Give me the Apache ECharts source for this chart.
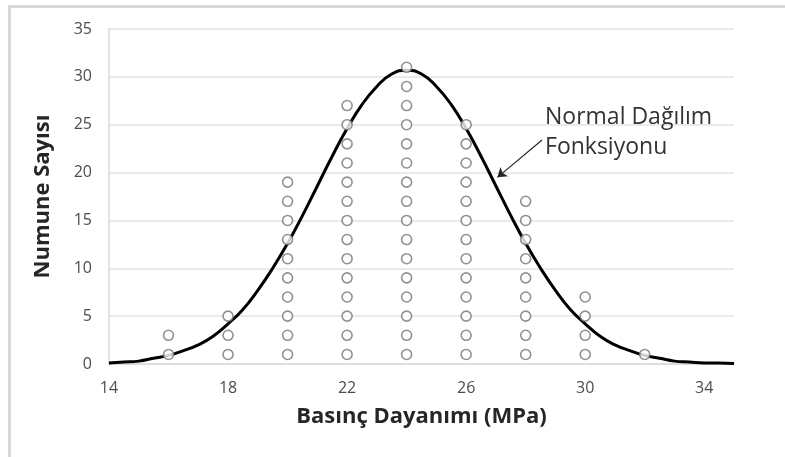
<!DOCTYPE html>
<html>
<head>
<meta charset="utf-8">
<script src="https://cdn.jsdelivr.net/npm/echarts@6/dist/echarts.min.js"></script>
<style>
  html, body { margin: 0; padding: 0; background: #fff; }
  #frame { position: absolute; left: 8px; top: 5px; width: 777px; height: 452px;
           border-top: 3px solid #d9d9d9; border-left: 3px solid #d9d9d9; box-sizing: border-box; }
  #chart { position: absolute; left: 0; top: 0; width: 785px; height: 457px; }
</style>
</head>
<body>
<div id="frame"></div>
<div id="chart"></div>
<script>
// strength classes (MPa) and how many specimens fell in each
const strengthBins = [16, 18, 20, 22, 24, 26, 28, 30, 32];
const binCounts = [2, 3, 10, 14, 16, 13, 9, 4, 1];

// normal distribution curve
const curveX = [14, 14.5, 15, 15.5, 16, 16.5, 17, 17.5, 18, 18.5, 19, 19.5, 20, 20.5, 21, 21.5,
  22, 22.5, 23, 23.5, 24, 24.5, 25, 25.5, 26, 26.5, 27, 27.5, 28, 28.5, 29, 29.5,
  30, 30.5, 31, 31.5, 32, 32.5, 33, 33.5, 34, 34.5, 35];
const curveY = [0.1, 0.2, 0.3, 0.6, 0.9, 1.4, 2.0, 2.9, 4.2, 5.7, 7.7, 10.0, 12.6, 15.5, 18.6, 21.7,
  24.6, 27.1, 29.0, 30.3, 30.7, 30.3, 29.0, 27.1, 24.6, 21.7, 18.6, 15.5, 12.6, 10.0, 7.7, 5.7,
  4.2, 2.9, 2.0, 1.4, 0.9, 0.6, 0.3, 0.2, 0.1, 0.1, 0.05];

const xTicks = [14, 18, 22, 26, 30, 34];

// each specimen stacked as a circle at 1, 3, 5, ...
const dots = [];
strengthBins.forEach((x, i) => {
  for (let k = 0; k < binCounts[i]; k++) dots.push([x, 1 + 2 * k]);
});

const chart = echarts.init(document.getElementById("chart"));

const option = {
  animation: false,
  textStyle: { fontFamily: "Open Sans" },
  grid: { left: 109, right: 51, top: 29, bottom: 93 },
  xAxis: {
    type: "value",
    min: 14,
    max: 35,
    interval: 2,
    name: "Basınç Dayanımı (MPa)",
    nameLocation: "middle",
    nameGap: 42,
    nameTextStyle: { fontSize: 22, fontWeight: "bold", color: "#262626", fontFamily: "Open Sans" },
    axisLine: { lineStyle: { color: "#d9d9d9", width: 1.5 } },
    axisTick: { show: false },
    splitLine: { show: false },
    axisLabel: {
      margin: 16,
      fontSize: 16,
      color: "#4d4d4d",
      formatter: (v) => (xTicks.includes(v) ? String(v) : ""),
    },
  },
  yAxis: {
    type: "value",
    min: 0,
    max: 35,
    interval: 5,
    name: "Numune Sayısı",
    nameLocation: "middle",
    nameGap: 55,
    nameTextStyle: { fontSize: 22, fontWeight: "bold", color: "#262626", fontFamily: "Open Sans" },
    axisLine: { show: true, lineStyle: { color: "#d9d9d9", width: 1.5 } },
    axisTick: { show: false },
    splitLine: { lineStyle: { color: "#e3e3e3", width: 1.5 } },
    axisLabel: { margin: 17, fontSize: 16, color: "#4d4d4d" },
  },
  series: [
    {
      name: "Normal Dağılım Fonksiyonu",
      type: "line",
      data: curveX.map((x, i) => [x, curveY[i]]),
      smooth: true,
      symbol: "none",
      z: 2,
      lineStyle: { color: "#000", width: 3 },
      markLine: {
        silent: true,
        symbol: ["none", "arrow"],
        symbolSize: 9,
        label: { show: false },
        lineStyle: { color: "#262626", width: 1.2, type: "solid" },
        data: [[{ coord: [28.55, 23.4] }, { coord: [27.05, 19.5] }]],
      },
      markPoint: {
        silent: true,
        symbol: "circle",
        symbolSize: 0,
        label: {
          show: true,
          position: "right",
          distance: 0,
          fontSize: 23,
          lineHeight: 30,
          color: "#333333",
          fontFamily: "Open Sans",
          formatter: "Normal Dağılım\nFonksiyonu",
        },
        data: [{ coord: [28.65, 24.2] }],
      },
    },
    {
      name: "Numune",
      type: "scatter",
      data: dots,
      z: 3,
      symbol: "circle",
      symbolSize: 10,
      itemStyle: { color: "#fff", borderColor: "#767676", borderWidth: 1.6 },
    },
  ],
};
chart.setOption(option);
</script>
</body>
</html>
